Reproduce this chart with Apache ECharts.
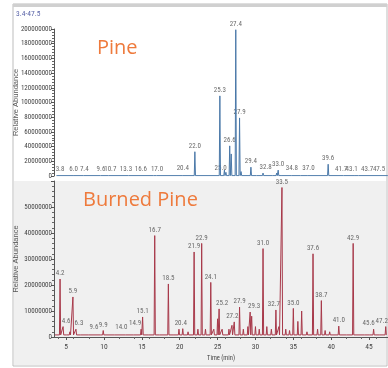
<!DOCTYPE html>
<html>
<head>
<meta charset="utf-8">
<script src="https://cdn.jsdelivr.net/npm/echarts@6/dist/echarts.min.js"></script>
<style>
  html, body { margin: 0; padding: 0; background: #fff; }
  #chart { width: 388px; height: 368px; }
</style>
</head>
<body>
<div id="chart"></div>
<script>
// retention times (min) and peak heights
const pineTimes = [3.8, 6.0, 7.4, 9.6, 10.7, 13.3, 16.6, 17.0, 20.4, 22.0, 25.0, 25.3, 25.9, 26.1, 26.6, 26.8, 27.4, 27.9, 28.1, 29.4, 30.2, 31.0, 32.3, 32.8, 33.0, 33.3, 34.8, 36.0, 37.0, 39.6, 41.7, 43.1, 43.7, 47.5];
const pineHeights = [1.5e6, 1.5e6, 1.2e6, 1.5e6, 1.2e6, 1.2e6, 1.5e6, 2e6, 2.5e6, 33e6, 3e6, 109e6, 8e6, 5e6, 41e6, 30e6, 199e6, 79e6, 6e6, 12e6, 3e6, 4e6, 3e6, 4e6, 8e6, 3e6, 3e6, 2e6, 2.5e6, 16e6, 1.5e6, 1.5e6, 1.5e6, 1.5e6];
const pineLabels = [3.8, 6.0, 7.4, 9.6, 10.7, 13.3, 16.6, 17.0, 20.4, 22.0, 25.0, 25.3, 26.6, 27.4, 27.9, 29.4, 32.8, 33.0, 34.8, 37.0, 39.6, 41.7, 43.1, 43.7, 47.5];

const burnedTimes = [3.6, 4.2, 4.6, 5.1, 5.5, 5.9, 6.3, 7.0, 8.0, 9.6, 9.9, 11.5, 12.9, 14.0, 14.9, 15.1, 16.0, 16.7, 17.4, 18.5, 19.2, 19.9, 20.4, 21.1, 21.9, 22.4, 22.9, 23.4, 24.1, 24.5, 25.0, 25.2, 25.6, 26.5, 26.9, 27.2, 27.9, 28.4, 29.0, 29.3, 29.5, 30.0, 30.5, 31.0, 31.5, 32.1, 32.7, 33.1, 33.5, 34.0, 34.5, 35.0, 35.6, 36.1, 36.8, 37.6, 38.2, 38.7, 39.2, 39.8, 41.0, 42.1, 42.9, 44.5, 45.1, 45.6, 46.5, 47.2];
const burnedHeights = [1e6, 22.3e6, 4e6, 1.5e6, 2e6, 15.4e6, 3e6, 1e6, 1e6, 1.5e6, 2.5e6, 1e6, 1e6, 1.5e6, 3e6, 7.7e6, 1.5e6, 39e6, 1.5e6, 20.4e6, 1.5e6, 3e6, 3.2e6, 2e6, 32.7e6, 3e6, 36e6, 3e6, 21e6, 3e6, 7e6, 10.8e6, 3e6, 3e6, 4.5e6, 5.8e6, 11.5e6, 3e6, 4e6, 9.6e6, 8e6, 4e6, 3e6, 34e6, 4e6, 3e6, 10.4e6, 4e6, 57.5e6, 3e6, 2.5e6, 11e6, 6e6, 10e6, 2e6, 32e6, 3e6, 14e6, 2.5e6, 2e6, 4.2e6, 1.5e6, 36e6, 1.5e6, 1.5e6, 3e6, 1.5e6, 4e6];
const burnedLabels = [4.2, 4.6, 5.9, 6.3, 9.6, 9.9, 14.0, 14.9, 15.1, 16.7, 18.5, 20.4, 21.9, 22.9, 24.1, 25.2, 27.2, 27.9, 29.3, 31.0, 32.7, 33.5, 35.0, 37.6, 38.7, 41.0, 42.9, 45.6, 47.2];

const timeTicks = [5, 10, 15, 20, 25, 30, 35, 40, 45];

// sideways nudges (px) of crowded peak labels, as the instrument software placed them
const pineLabelShift = { '3.8': 3, '10.7': 1, '13.3': -3, '16.6': -13, '25.0': 3, '32.8': -11, '41.7': -3, '43.1': -3, '43.7': 8, '47.5': -9 };
const burnedLabelShift = { '4.6': 3, '6.3': 3, '9.6': -7, '14.0': -13, '14.9': -6, '20.4': -2, '25.2': 3, '27.2': -2, '29.3': 4, '32.7': -2, '45.6': -5, '47.2': -4 };

const narrow = '"Roboto Condensed", "DejaVu Sans Condensed", sans-serif';

// each peak: baseline - apex - baseline
function trace(times, heights, base) {
  const pts = [];
  times.forEach((t, i) => {
    pts.push([t - 0.08, base]);
    pts.push([t, heights[i]]);
    pts.push([t + 0.08, base]);
  });
  return pts;
}

function labelPoints(labels, times, heights, shift) {
  return labels.map((t) => ({
    value: [t, heights[times.indexOf(t)]],
    label: { offset: [shift[t.toFixed(1)] || 0, 0] },
  }));
}

const chart = echarts.init(document.getElementById('chart'));

const yAxisCommon = {
  type: 'value',
  min: 0,
  axisLine: { show: true, lineStyle: { color: '#555', width: 1 } },
  axisTick: { show: true, length: 3, lineStyle: { color: '#555' } },
  minorTick: { show: true, splitNumber: 5, length: 2, lineStyle: { color: '#666' } },
  splitLine: { show: false },
  axisLabel: { color: '#444', fontSize: 7, fontFamily: narrow, margin: 2, formatter: (v) => String(v) },
  name: 'Relative Abundance',
  nameLocation: 'middle',
  nameGap: 34,
  nameMoveOverlap: false,
  nameTextStyle: { color: '#555', fontSize: 7.5, fontFamily: '"Liberation Sans", Arial, sans-serif' },
};

const labelStyle = {
  show: true,
  position: 'top',
  distance: 2,
  color: '#444',
  fontSize: 7,
  fontFamily: narrow,
  formatter: (p) => p.value[0].toFixed(1),
};

chart.setOption({
  animation: false,
  graphic: [
    { type: 'rect', shape: { x: 13, y: 4, width: 374, height: 362 }, style: { fill: '#fff', stroke: '#bdbdbd', lineWidth: 1 }, z: -10 },
    { type: 'rect', shape: { x: 13, y: 4, width: 374, height: 3 }, style: { fill: '#d0d0d0' }, z: -9 },
    { type: 'rect', shape: { x: 14, y: 181, width: 372, height: 184 }, style: { fill: '#f0f0f0' }, z: -9 },
    { type: 'text', left: 16, top: 10, style: { text: '3.4-47.5', fill: '#5a64a8', fontSize: 7.5, fontFamily: narrow } },
    { type: 'text', left: 97, top: 38, style: { text: 'Pine', fill: '#ee7a3c', fontSize: 20, fontFamily: 'Open Sans, sans-serif' } },
    { type: 'text', left: 83, top: 190, style: { text: 'Burned Pine', fill: '#ee7a3c', fontSize: 20, fontFamily: 'Open Sans, sans-serif' } },
  ],
  grid: [
    { left: 54, top: 29, width: 334, height: 147, outerBoundsMode: 'none', containLabel: false },
    { left: 54, top: 181, width: 334, height: 156, outerBoundsMode: 'none', containLabel: false },
  ],
  xAxis: [
    { gridIndex: 0, type: 'value', min: 3.4, max: 47.5, show: false },
    {
      gridIndex: 1, type: 'value', min: 3.4, max: 47.5,
      axisLine: { show: true, lineStyle: { color: '#555' } },
      axisTick: { show: true, length: 3, lineStyle: { color: '#555' }, customValues: timeTicks },
      minorTick: { show: true, splitNumber: 5, length: 2, lineStyle: { color: '#666' } },
      splitLine: { show: false },
      axisLabel: { color: '#444', fontSize: 7.5, fontFamily: narrow, margin: 6, customValues: timeTicks },
      name: 'Time (min)',
      nameLocation: 'middle',
      nameGap: 18,
      nameMoveOverlap: false,
      nameTextStyle: { color: '#444', fontSize: 6.5, fontFamily: narrow },
    },
  ],
  yAxis: [
    Object.assign({}, yAxisCommon, { gridIndex: 0, max: 200e6, interval: 20e6 }),
    Object.assign({}, yAxisCommon, { gridIndex: 1, max: 60e6, interval: 10e6, axisLabel: Object.assign({}, yAxisCommon.axisLabel, { showMaxLabel: false }) }),
  ],
  series: [
    {
      type: 'line', xAxisIndex: 0, yAxisIndex: 0, symbol: 'none',
      lineStyle: { color: '#4a78a8', width: 1 },
      data: trace(pineTimes, pineHeights, 0.5e6),
    },
    {
      type: 'scatter', xAxisIndex: 0, yAxisIndex: 0, symbolSize: 0,
      label: labelStyle,
      data: labelPoints(pineLabels, pineTimes, pineHeights, pineLabelShift),
    },
    {
      type: 'line', xAxisIndex: 1, yAxisIndex: 1, symbol: 'none',
      lineStyle: { color: '#a8394a', width: 1 },
      data: trace(burnedTimes, burnedHeights, 0.8e6),
    },
    {
      type: 'scatter', xAxisIndex: 1, yAxisIndex: 1, symbolSize: 0,
      label: labelStyle,
      data: labelPoints(burnedLabels, burnedTimes, burnedHeights, burnedLabelShift),
    },
  ],
});
</script>
</body>
</html>
